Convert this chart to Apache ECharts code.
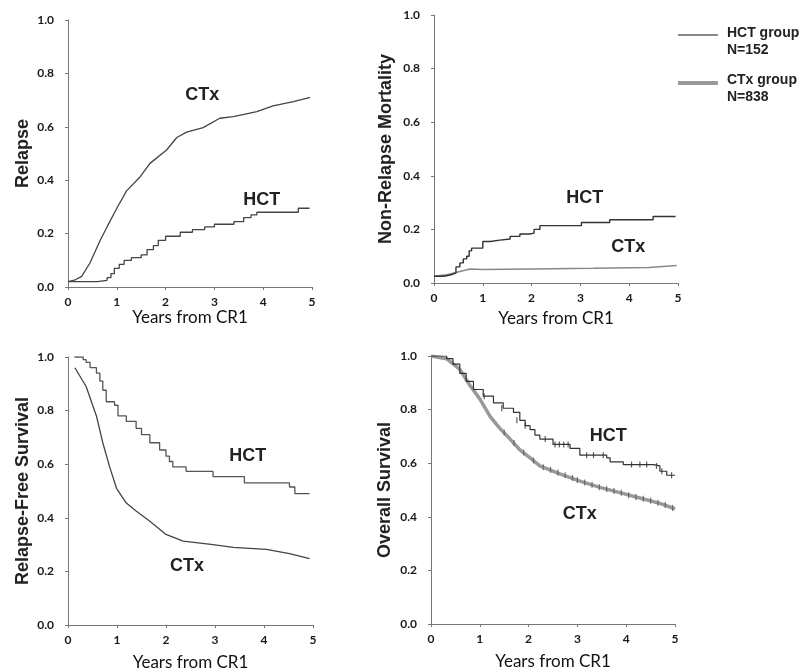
<!DOCTYPE html>
<html><head><meta charset="utf-8">
<script src="https://cdn.jsdelivr.net/npm/echarts@6/dist/echarts.min.js"></script>
<style>html,body{margin:0;padding:0;background:#fff}#c{width:806px;height:672px}</style>
</head><body><div id="c"></div>
<script>
// ---- texts ----
const panelTitles = ['Relapse', 'Non-Relapse Mortality', 'Relapse-Free Survival', 'Overall Survival'];
const xAxisTitle = 'Years from CR1';
const seriesNames = ['HCT group', 'CTx group'];
const legendLabels = { 'HCT group': 'HCT group\nN=152', 'CTx group': 'CTx group\nN=838' };
const curveLabels = ['HCT', 'CTx'];

// ---- data: [years from CR1, probability] ----
const relapseHCT = [[0,0.02],[0.6,0.025],[0.8,0.035],[0.88,0.05],[0.95,0.07],[1.05,0.085],[1.15,0.10],[1.3,0.11],[1.5,0.12],[1.62,0.14],[1.75,0.155],[1.85,0.175],[2.0,0.19],[2.3,0.205],[2.55,0.215],[2.8,0.225],[3.0,0.235],[3.4,0.245],[3.6,0.26],[3.75,0.27],[3.87,0.28],[4.72,0.295],[4.95,0.295]];
const relapseCTx = [[0,0.02],[0.15,0.027],[0.28,0.04],[0.45,0.09],[0.66,0.175],[0.8,0.225],[1.0,0.295],[1.2,0.36],[1.48,0.413],[1.68,0.463],[2.02,0.513],[2.23,0.56],[2.43,0.58],[2.77,0.597],[3.11,0.632],[3.39,0.638],[3.87,0.657],[4.2,0.678],[4.62,0.694],[4.96,0.71]];

const nrmHCT = [[0,0.025],[0.2,0.03],[0.33,0.037],[0.45,0.06],[0.53,0.075],[0.6,0.09],[0.67,0.10],[0.72,0.12],[0.77,0.13],[1.0,0.155],[1.15,0.16],[1.35,0.164],[1.56,0.174],[1.76,0.183],[1.96,0.186],[2.05,0.2],[2.17,0.214],[3.02,0.226],[3.6,0.236],[4.49,0.248],[4.95,0.248]];
const nrmCTx = [[0,0.025],[0.26,0.031],[0.53,0.043],[0.74,0.052],[1.0,0.05],[2.0,0.052],[3.26,0.055],[4.4,0.058],[4.97,0.065]];

const rfsHCT = [[0.13,1.0],[0.31,0.99],[0.37,0.98],[0.45,0.96],[0.58,0.94],[0.65,0.91],[0.71,0.876],[0.78,0.833],[0.95,0.82],[1.02,0.78],[1.19,0.76],[1.39,0.734],[1.5,0.71],[1.67,0.68],[1.87,0.653],[2.0,0.63],[2.07,0.61],[2.14,0.59],[2.41,0.573],[2.96,0.554],[3.6,0.53],[4.52,0.515],[4.63,0.49],[4.93,0.49]];
const rfsCTx = [[0.14,0.96],[0.37,0.89],[0.58,0.78],[0.71,0.68],[0.85,0.59],[0.99,0.51],[1.19,0.455],[1.39,0.425],[1.67,0.387],[2.0,0.338],[2.35,0.313],[2.96,0.30],[3.37,0.29],[4.05,0.282],[4.52,0.266],[4.93,0.248]];

const osHCT = [[0,1.0],[0.32,0.99],[0.45,0.97],[0.59,0.935],[0.72,0.905],[0.87,0.875],[1.07,0.85],[1.28,0.825],[1.48,0.805],[1.69,0.79],[1.82,0.76],[1.93,0.74],[2.03,0.725],[2.13,0.705],[2.23,0.69],[2.5,0.67],[2.85,0.655],[3.05,0.63],[3.6,0.62],[3.67,0.605],[3.94,0.595],[4.56,0.59],[4.69,0.57],[4.83,0.555],[5.0,0.555]];
const osCTx = [[0,1.0],[0.32,0.99],[0.59,0.95],[0.8,0.89],[1.0,0.84],[1.21,0.775],[1.41,0.73],[1.62,0.69],[1.82,0.65],[2.03,0.62],[2.23,0.59],[2.64,0.56],[3.05,0.533],[3.46,0.51],[3.87,0.49],[4.28,0.47],[4.69,0.45],[5.0,0.43]];
const osHCTcensor = [[1.09,0.85],[1.45,0.805],[1.76,0.76],[1.93,0.74],[2.34,0.69],[2.54,0.67],[2.63,0.67],[2.72,0.67],[2.81,0.67],[3.19,0.63],[3.33,0.63],[3.53,0.63],[4.11,0.595],[4.28,0.595],[4.42,0.595],[4.62,0.59],[4.73,0.57],[4.93,0.555]];
const osCTxCensor = [[1.5,0.715],[1.7,0.675],[1.9,0.64],[2.1,0.61],[2.3,0.585],[2.45,0.575],[2.6,0.565],[2.75,0.555],[2.9,0.545],[3.0,0.537],[3.15,0.528],[3.3,0.52],[3.45,0.51],[3.6,0.503],[3.75,0.496],[3.9,0.49],[4.05,0.48],[4.2,0.474],[4.35,0.467],[4.5,0.46],[4.65,0.452],[4.8,0.444],[4.95,0.433]];

// annotation anchors (data coords) per panel: [HCT, CTx]
const annot = [
  [[3.97,0.326],[2.75,0.72]],
  [[3.09,0.317],[3.98,0.134]],
  [[3.67,0.632],[2.43,0.22]],
  [[3.63,0.70],[3.05,0.41]]
];

// ---- layout ----
const grids = [
  {left:68, top:20, width:244, height:267},
  {left:434, top:15, width:244, height:268},
  {left:68, top:357, width:245, height:269},
  {left:431, top:356, width:244, height:268}
];
const yNameGap = [36, 39, 36, 37];
const xNameGap = [20, 27, 29, 29];

const tickFont = {fontFamily:'Lato', fontWeight:'bold', fontSize:12, color:'#1a1a1a'};
const axisLine = {show:true, lineStyle:{color:'#777', width:1}};

const xAxes = grids.map((g,i)=>({
  type:'value', gridIndex:i, min:0, max:5, interval:1,
  name:xAxisTitle, nameLocation:'middle', nameGap:xNameGap[i],
  nameTextStyle:{fontFamily:'Lato', fontSize:17, color:'#111'},
  axisLine, axisTick:{show:true, length:3, lineStyle:{color:'#777'}},
  axisLabel:Object.assign({margin:9}, tickFont),
  splitLine:{show:false}
}));
const yAxes = grids.map((g,i)=>({
  type:'value', gridIndex:i, min:0, max:1, interval:0.2,
  name:panelTitles[i], nameLocation:'middle', nameGap:yNameGap[i],
  nameTextStyle:{fontFamily:'Liberation Sans', fontWeight:'bold', fontSize:18, color:'#222'},
  axisLine, axisTick:{show:true, length:3, lineStyle:{color:'#777'}},
  axisLabel:Object.assign({margin:14, formatter:v=>v.toFixed(1)}, tickFont),
  splitLine:{show:false}
}));

function mp(i, k){
  return {
    symbol:'circle', symbolSize:1, itemStyle:{color:'rgba(0,0,0,0)'},
    label:{show:true, position:'inside', formatter:curveLabels[k], fontFamily:'Liberation Sans', fontWeight:'bold', fontSize:18, color:'#222'},
    data:[{coord:annot[i][k]}]
  };
}
function curve(i, k, data, step, color, width){
  return {
    name:seriesNames[k], type:'line', xAxisIndex:i, yAxisIndex:i, data,
    step: step ? 'end' : false, showSymbol:false, symbol:'none', silent:true,
    lineStyle:{color, width}, itemStyle:{color}, markPoint:mp(i,k), animation:false, z: k===0?3:2
  };
}
const series = [
  curve(0,0,relapseHCT,true,'#444',1.3),
  curve(0,1,relapseCTx,false,'#444',1.3),
  curve(1,0,nrmHCT,true,'#333',1.4),
  curve(1,1,nrmCTx,false,'#888',1.5),
  curve(2,0,rfsHCT,true,'#555',1.3),
  curve(2,1,rfsCTx,false,'#444',1.3),
  curve(3,1,osCTx,false,'#999',3.5),
  curve(3,0,osHCT,true,'#333',1.2),
  {name:'HCT censored', type:'scatter', xAxisIndex:3, yAxisIndex:3, data:osHCTcensor, symbol:'rect', symbolSize:[1.2,6], itemStyle:{color:'#333'}, silent:true, animation:false, z:4},
  {name:'CTx censored', type:'scatter', xAxisIndex:3, yAxisIndex:3, data:osCTxCensor, symbol:'rect', symbolSize:[1.2,6], itemStyle:{color:'#555'}, silent:true, animation:false, z:4}
];

const chart = echarts.init(document.getElementById('c'), null, {renderer:'canvas'});
chart.setOption({
  backgroundColor:'#fff',
  animation:false,
  grid:grids.map(g=>Object.assign({containLabel:false}, g)),
  xAxis:xAxes, yAxis:yAxes, series,
  legend:{
    orient:'vertical', left:673, top:19, itemWidth:40, itemHeight:36, itemGap:11,
    selectedMode:false,
    data:[
      {name:seriesNames[0], icon:'path://M0,0H0.1V0.1H0Z M0,10H40V12H0Z M0,36H0.1V36.1H0Z', itemStyle:{color:'#888', borderWidth:0}},
      {name:seriesNames[1], icon:'path://M0,0H0.1V0.1H0Z M0,10H40V14H0Z M0,36H0.1V36.1H0Z', itemStyle:{color:'#999', borderWidth:0}}
    ],
    formatter:n=>legendLabels[n],
    textStyle:{fontFamily:'Liberation Sans', fontWeight:'bold', fontSize:14, lineHeight:17, color:'#222', padding:[0,0,0,4]}
  }
});
</script></body></html>
